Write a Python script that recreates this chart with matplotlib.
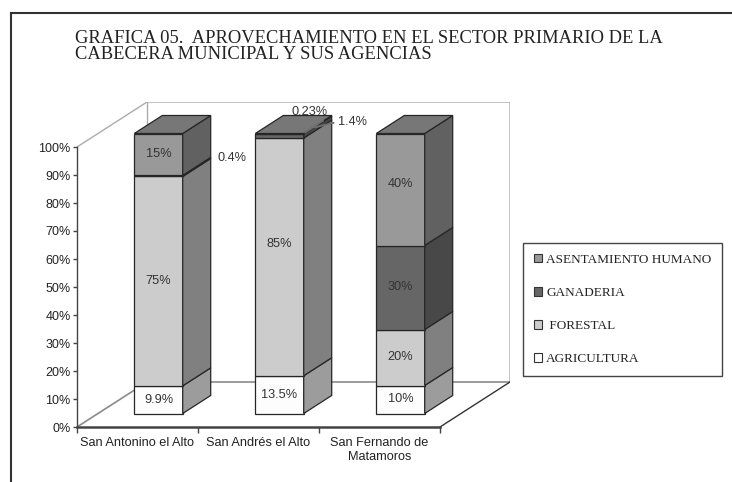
import matplotlib
matplotlib.use("Agg")
import matplotlib.pyplot as plt
from matplotlib.patches import Polygon, Patch
from matplotlib.lines import Line2D
from matplotlib.ticker import FixedLocator, PercentFormatter

# datos de la grafica (porcentajes por localidad)
localidades = ["San Antonino el Alto", "San Andrés el Alto", "San Fernando de\nMatamoros"]
series = ["AGRICULTURA", " FORESTAL", "GANADERIA", "ASENTAMIENTO HUMANO"]
agricultura = [9.9, 13.5, 10]
forestal = [75, 85, 20]
ganaderia = [0.4, 1.4, 30]
asentamiento = [15, 0.23, 40]
etiquetas = [["9.9%", "13.5%", "10%"],
             ["75%", "85%", "20%"],
             ["0.4%", "1.4%", "30%"],
             ["15%", "0.23%", "40%"]]
titulo = ["GRAFICA 05.  APROVECHAMIENTO EN EL SECTOR PRIMARIO DE LA",
          "CABECERA MUNICIPAL Y SUS AGENCIAS"]

# colores tipo excel en grises: frente, lado, arriba
frente = ["#fdfdfd", "#cccccc", "#666666", "#999999"]
lado = ["#9c9c9c", "#808080", "#484848", "#616161"]
arriba = "#777777"
borde = "#262626"

# etiquetas movidas a mano en el original (serie, localidad): puntos hacia arriba
movidas = {(1, 1): 9.5, (3, 2): 4}

W, H = 732, 482
fig = plt.figure(figsize=(W / 100, H / 100), dpi=100)

# profundidad del efecto 3d en unidades de datos
DX = 70 / 121
DY = 45 / 2.8
Z0, Z1 = 0.3, 0.7
ANCHO = 0.2

ax = fig.add_axes([77 / W, 55 / H, 433 / W, 325 / H])
ax.set_xlim(-0.5, 2.5 + DX)
ax.set_ylim(0, 100 + DY)


def proj(x, v, z):
    return (x + z * DX, v + z * DY)


# paredes y piso
ax.plot([-0.5, -0.5 + DX, 2.5 + DX, 2.5 + DX], [100, 100 + DY, 100 + DY, DY],
        color="#ababab", lw=1, zorder=1)
ax.plot([-0.5 + DX, -0.5 + DX], [DY, 100 + DY], color="#ababab", lw=1, zorder=1)
ax.plot([-0.5, -0.5 + DX, 2.5 + DX], [0, DY, DY], color="#8a8a8a", lw=1.2, zorder=1)
ax.plot([2.5, 2.5 + DX], [0, DY], color="#333333", lw=1, zorder=1)

datos = [agricultura, forestal, ganaderia, asentamiento]
fuente = ["Liberation Sans", "DejaVu Sans"]
tam = 9.2

for i in range(len(localidades)):
    valores = [d[i] for d in datos]
    total = sum(valores)
    base = 0
    for j, v in enumerate(valores):
        lo = base
        hi = base + v / total * 100
        base = hi
        cara = [proj(i - ANCHO, lo, Z0), proj(i + ANCHO, lo, Z0),
                proj(i + ANCHO, hi, Z0), proj(i - ANCHO, hi, Z0)]
        ax.add_patch(Polygon(cara, closed=True, fc=frente[j], ec=borde, lw=0.9, zorder=3))
        costado = [proj(i + ANCHO, lo, Z0), proj(i + ANCHO, lo, Z1),
                   proj(i + ANCHO, hi, Z1), proj(i + ANCHO, hi, Z0)]
        ax.add_patch(Polygon(costado, closed=True, fc=lado[j], ec=borde, lw=0.9, zorder=3))
        txt = etiquetas[j][i]
        if hi - lo > 3:
            ax.annotate(txt, xy=proj(i, (lo + hi) / 2, Z0), xytext=(0, movidas.get((j, i), 0)),
                        textcoords="offset points", ha="center", va="center",
                        fontsize=tam, color="#333333", family=fuente, zorder=5)
        elif i == 0:
            ax.annotate(txt, xy=proj(i + ANCHO, (lo + hi) / 2, Z1), xytext=(5, 0),
                        textcoords="offset points", ha="left", va="center",
                        fontsize=tam, color="#333333", family=fuente, zorder=5)
        elif j == 2:
            ax.annotate(txt, xy=proj(i + ANCHO, hi, 0.45), xytext=(17, 4),
                        textcoords="offset points", ha="left", va="center",
                        fontsize=tam, color="#333333", family=fuente, zorder=5,
                        arrowprops=dict(arrowstyle="-", color="#707070", lw=1.3,
                                        relpos=(0, 0.5), shrinkA=1, shrinkB=0))
        else:
            ax.annotate(txt, xy=proj(i + ANCHO, hi, Z0 + 0.02), xytext=(3, 15),
                        textcoords="offset points", ha="center", va="center",
                        fontsize=tam, color="#333333", family=fuente, zorder=5,
                        arrowprops=dict(arrowstyle="-", color="#707070", lw=1.3,
                                        relpos=(1, 0), shrinkA=0, shrinkB=0))
    top = [proj(i - ANCHO, 100, Z0), proj(i + ANCHO, 100, Z0),
           proj(i + ANCHO, 100, Z1), proj(i - ANCHO, 100, Z1)]
    ax.add_patch(Polygon(top, closed=True, fc=arriba, ec=borde, lw=0.9, zorder=3))

# ejes
for s in ["top", "right"]:
    ax.spines[s].set_visible(False)
ax.spines["left"].set_bounds(0, 100)
ax.spines["bottom"].set_bounds(-0.5, 2.5)
ax.spines["left"].set_color("#444444")
ax.spines["bottom"].set_color("#444444")
ax.spines["left"].set_linewidth(1.0)
ax.spines["bottom"].set_linewidth(1.8)
ax.set_facecolor("none")

ax.yaxis.set_major_locator(FixedLocator(range(0, 101, 10)))
ax.yaxis.set_major_formatter(PercentFormatter(decimals=0))
ax.tick_params(axis="y", length=3, width=1, pad=1.5, colors="#444444",
               labelcolor="#222222", labelsize=9)
ax.set_xticks([-0.5, 0.5, 1.5, 2.5])
ax.set_xticklabels([])
ax.set_xticks(range(len(localidades)), minor=True)
ax.set_xticklabels(localidades, minor=True)
ax.tick_params(axis="x", which="major", length=4, width=1, colors="#444444")
ax.tick_params(axis="x", which="minor", length=0, pad=7, labelsize=tam, labelcolor="#222222")
for t in ax.get_xticklabels(minor=True) + ax.get_yticklabels():
    t.set_family(fuente)

# leyenda
manijas = [Patch(fc=frente[j], ec="#333333", lw=0.8, label=series[j]) for j in range(3, -1, -1)]
fig.legend(handles=manijas, loc="upper left", bbox_to_anchor=(523 / W, 1 - 243 / H),
           frameon=True, fancybox=False, edgecolor="#444444", framealpha=1,
           prop={"family": "Liberation Serif", "size": 9.5}, labelspacing=1.6,
           handlelength=0.65, handleheight=0.65, handletextpad=0.3, borderpad=0.8,
           borderaxespad=0, labelcolor="#222222")

# titulo, dos renglones
for k, renglon in enumerate(titulo):
    fig.text(75 / W, 1 - (43 + 16 * k) / H, renglon, ha="left", va="baseline",
             family="Liberation Serif", fontsize=13.3, color="#222222")

# marco
fig.add_artist(Line2D([11 / W, 11 / W], [0, 1 - 13 / H], transform=fig.transFigure,
                      color="#333333", lw=1.5))
fig.add_artist(Line2D([11 / W, 1], [1 - 13 / H, 1 - 13 / H], transform=fig.transFigure,
                      color="#333333", lw=1.5))

fig.savefig("out.png", dpi=100)
